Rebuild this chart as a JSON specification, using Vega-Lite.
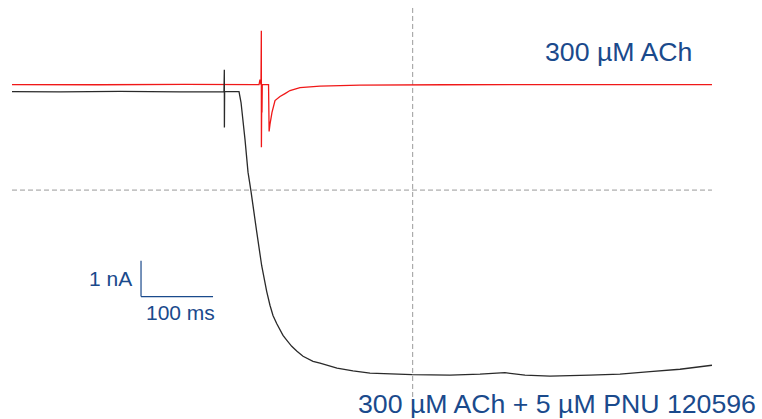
{
  "$schema": "https://vega.github.io/schema/vega-lite/v6.json",
  "width": 762,
  "height": 419,
  "autosize": {"type": "fit", "contains": "padding"},
  "padding": 0,
  "background": "white",
  "config": {"view": {"stroke": null}},
  "datasets": {
    "control": [
      {"t": 0, "i": 0.194},
      {"t": 120, "i": 0.19},
      {"t": 240, "i": 0.2},
      {"t": 343.1, "i": 0.194},
      {"t": 344.4, "i": 0.333},
      {"t": 345.8, "i": 0.194},
      {"t": 346.3, "i": 1.694},
      {"t": 346.4, "i": -1.556},
      {"t": 347.0, "i": 0.194},
      {"t": 347.2, "i": -0.583},
      {"t": 347.6, "i": 0.194},
      {"t": 356.3, "i": 0.194},
      {"t": 357.1, "i": -1.111},
      {"t": 358.3, "i": -0.917},
      {"t": 361.1, "i": -0.583},
      {"t": 365.3, "i": -0.25},
      {"t": 372.2, "i": -0.139},
      {"t": 379.2, "i": -0.056},
      {"t": 386.1, "i": 0.028},
      {"t": 400.0, "i": 0.111},
      {"t": 427.8, "i": 0.153},
      {"t": 483.3, "i": 0.181},
      {"t": 600, "i": 0.19},
      {"t": 800, "i": 0.196},
      {"t": 972.2, "i": 0.194}
    ],
    "pnu": [
      {"t": 0, "i": 0},
      {"t": 66.7, "i": -0.008},
      {"t": 150, "i": 0.006},
      {"t": 233.3, "i": -0.006},
      {"t": 294.4, "i": 0},
      {"t": 294.9, "i": 0.611},
      {"t": 295.0, "i": -1.0},
      {"t": 295.3, "i": 0},
      {"t": 315.3, "i": 0},
      {"t": 318.1, "i": -0.306},
      {"t": 323.6, "i": -1.333},
      {"t": 327.8, "i": -2.25},
      {"t": 331.9, "i": -2.778},
      {"t": 339.9, "i": -3.917},
      {"t": 346.8, "i": -4.861},
      {"t": 353.8, "i": -5.583},
      {"t": 358.3, "i": -5.964},
      {"t": 362.5, "i": -6.25},
      {"t": 367.6, "i": -6.472},
      {"t": 376.4, "i": -6.806},
      {"t": 381.5, "i": -6.936},
      {"t": 388.5, "i": -7.111},
      {"t": 395.8, "i": -7.25},
      {"t": 404.2, "i": -7.389},
      {"t": 418.1, "i": -7.528},
      {"t": 427.8, "i": -7.583},
      {"t": 451.4, "i": -7.722},
      {"t": 473.6, "i": -7.797},
      {"t": 497.2, "i": -7.861},
      {"t": 555.6, "i": -7.903},
      {"t": 608.3, "i": -7.917},
      {"t": 650.0, "i": -7.889},
      {"t": 684.7, "i": -7.847},
      {"t": 712.5, "i": -7.917},
      {"t": 747.2, "i": -7.944},
      {"t": 802.8, "i": -7.917},
      {"t": 844.4, "i": -7.889},
      {"t": 886.1, "i": -7.819},
      {"t": 927.8, "i": -7.75},
      {"t": 972.2, "i": -7.639}
    ],
    "guides": [
      {"t": 556.5, "t2": 556.5, "i": 2.333, "i2": -8.889},
      {"t": 0, "t2": 972.2, "i": -2.75, "i2": -2.75}
    ],
    "scalebar": [
      {"t": 179.2, "t2": 179.2, "i": -4.722, "i2": -5.722},
      {"t": 179.2, "t2": 279.2, "i": -5.722, "i2": -5.722}
    ],
    "labels": [
      {"t": 740.3, "i": 0.842, "label": "300 µM ACh", "size": "big"},
      {"t": 480.6, "i": -8.972, "label": "300 µM ACh + 5 µM PNU 120596", "size": "big"},
      {"t": 106.9, "i": -5.417, "label": "1 nA", "size": "small"},
      {"t": 186.1, "i": -6.389, "label": "100 ms", "size": "small"}
    ]
  },
  "encoding": {
    "x": {"field": "t", "type": "quantitative", "scale": {"domain": [-16.667, 1041.667], "nice": false, "zero": false}, "axis": null},
    "y": {"field": "i", "type": "quantitative", "scale": {"domain": [-9.0833, 2.5556], "nice": false, "zero": false}, "axis": null}
  },
  "layer": [
    {
      "data": {"name": "guides"},
      "mark": {"type": "rule", "color": "#9a9a9a", "strokeWidth": 1, "strokeDash": [5, 3]},
      "encoding": {"x2": {"field": "t2"}, "y2": {"field": "i2"}}
    },
    {
      "data": {"name": "control"},
      "mark": {"type": "line", "color": "#f01818", "strokeWidth": 1.3, "interpolate": "linear"},
      "encoding": {"order": {"field": "t", "type": "quantitative"}}
    },
    {
      "data": {"name": "pnu"},
      "mark": {"type": "line", "color": "#2a2a2a", "strokeWidth": 1.3, "interpolate": "linear"},
      "encoding": {"order": {"field": "t", "type": "quantitative"}}
    },
    {
      "data": {"name": "scalebar"},
      "mark": {"type": "rule", "color": "#1a4a8c", "strokeWidth": 1.2},
      "encoding": {"x2": {"field": "t2"}, "y2": {"field": "i2"}}
    },
    {
      "data": {"name": "labels"},
      "mark": {"type": "text", "align": "left", "baseline": "alphabetic", "font": "Liberation Sans", "color": "#1a4a8c"},
      "encoding": {
        "text": {"field": "label"},
        "size": {"field": "size", "type": "nominal", "scale": {"domain": ["big", "small"], "range": [26.7, 21]}, "legend": null}
      }
    }
  ]
}
